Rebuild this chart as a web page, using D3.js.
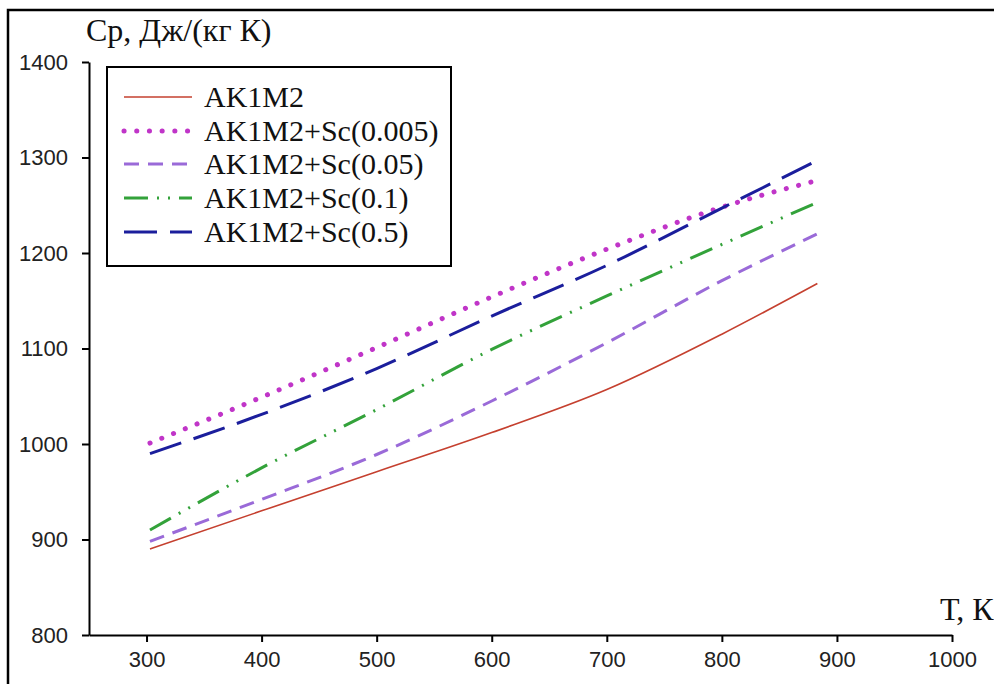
<!DOCTYPE html>
<html><head><meta charset="utf-8">
<script src="https://cdn.jsdelivr.net/npm/d3@7"></script>
<style>
html,body{margin:0;padding:0;background:#fff;}
svg{display:block;}
</style></head>
<body>
<svg id="c" width="994" height="684"></svg>
<script>
// ---- data ----
const temps = [303, 400, 500, 600, 700, 800, 883];
const seriesNames = ["AK1M2", "AK1M2+Sc(0.005)", "AK1M2+Sc(0.05)", "AK1M2+Sc(0.1)", "AK1M2+Sc(0.5)"];
const cpAK1M2   = [890, 930, 971, 1012, 1057, 1115, 1168];
const cpSc0005  = [1001, 1049, 1101, 1154, 1204, 1248, 1276];
const cpSc005   = [898, 942, 989, 1045, 1106, 1171, 1220];
const cpSc01    = [910, 975, 1036, 1099, 1155, 1209, 1253];
const cpSc05    = [990, 1031, 1079, 1134, 1187, 1247, 1297];
const xTicks = [300, 400, 500, 600, 700, 800, 900, 1000];
const yTicks = [800, 900, 1000, 1100, 1200, 1300, 1400];
const yTitle = "Ср, Дж/(кг К)";
const xTitle = "Т, К";

const seriesValues = [cpAK1M2, cpSc0005, cpSc005, cpSc01, cpSc05];
const styles = [
  {color:"#c5402f", width:1.6, dash:null, cap:"butt"},
  {color:"#c035c8", width:5, dash:"0.1 12.6", cap:"round"},
  {color:"#9a6ad8", width:3, dash:"15 9", cap:"butt"},
  {color:"#33a23a", width:3, dash:"24 9 2 9 2 9", cap:"butt"},
  {color:"#1b1e9c", width:3, dash:"33 13", cap:"butt"}
];

const svg = d3.select("#c");
// outer frame
svg.append("rect").attr("x",8).attr("y",10).attr("width",1100).attr("height",800)
  .attr("fill","none").attr("stroke","#000").attr("stroke-width",2.5);

const x = d3.scaleLinear().domain([250, 1000]).range([89, 952]);
const y = d3.scaleLinear().domain([800, 1400]).range([635, 62]);

// axes
const xAxis = svg.append("g").attr("transform",`translate(0,${y(800)})`)
  .call(d3.axisBottom(x).tickValues(xTicks).tickFormat(d3.format("d")).tickSize(7).tickPadding(9).tickSizeOuter(0));
const yAxis = svg.append("g").attr("transform",`translate(${x(250)},0)`)
  .call(d3.axisLeft(y).tickValues(yTicks).tickFormat(d3.format("d")).tickSize(7).tickPadding(14).tickSizeOuter(0));
[xAxis, yAxis].forEach(g=>{
  g.select(".domain").attr("stroke","#000").attr("stroke-width",2);
  g.selectAll(".tick line").attr("stroke","#000").attr("stroke-width",2);
  g.selectAll(".tick text").attr("fill","#222")
    .style("font-family","'Liberation Sans', Arial, sans-serif").style("font-size","22px");
});
xAxis.selectAll(".tick text").attr("dy","0.71em");

// titles
svg.append("text").attr("x",86).attr("y",41).text(yTitle)
  .style("font-family","'Liberation Serif','Times New Roman',serif").style("font-size","32px").attr("fill","#111");
svg.append("text").attr("x",940).attr("y",620).text(xTitle)
  .style("font-family","'Liberation Serif','Times New Roman',serif").style("font-size","32px").attr("fill","#111");

// lines
const line = d3.line().x(d=>x(d[0])).y(d=>y(d[1])).curve(d3.curveMonotoneX);
seriesValues.forEach((vals,i)=>{
  const st = styles[i];
  svg.append("path").datum(temps.map((t,j)=>[t, vals[j]]))
    .attr("d", line).attr("fill","none")
    .attr("stroke", st.color).attr("stroke-width", st.width)
    .attr("stroke-dasharray", st.dash).attr("stroke-linecap", st.cap);
});

// legend
const lg = svg.append("g");
lg.append("rect").attr("x",107).attr("y",67).attr("width",344).attr("height",199)
  .attr("fill","#fff").attr("stroke","#000").attr("stroke-width",2);
const rowY = [97, 131, 164, 198, 232];
seriesNames.forEach((n,i)=>{
  const st = styles[i];
  lg.append("line").attr("x1",124).attr("x2",192).attr("y1",rowY[i]).attr("y2",rowY[i])
    .attr("stroke",st.color).attr("stroke-width",st.width)
    .attr("stroke-dasharray",st.dash).attr("stroke-linecap",st.cap);
  lg.append("text").attr("x",204).attr("y",rowY[i]+10).text(n)
    .style("font-family","'Liberation Serif','Times New Roman',serif").style("font-size","30px").attr("fill","#111");
});
</script>
</body></html>
